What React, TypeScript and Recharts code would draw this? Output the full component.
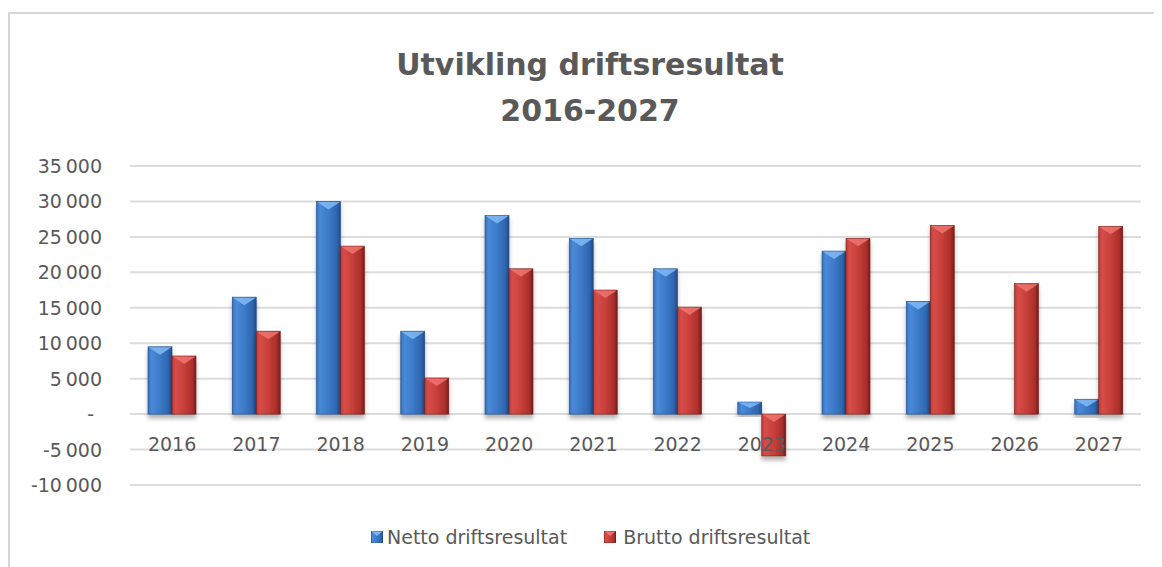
import React from 'react';
import { BarChart, Bar, XAxis, YAxis, CartesianGrid, Legend } from 'recharts';

const years = ['2016', '2017', '2018', '2019', '2020', '2021', '2022', '2023', '2024', '2025', '2026', '2027'];
const netto = [9500, 16500, 30000, 11700, 28000, 24800, 20500, 1700, 23000, 15900, 0, 2100];
const brutto = [8200, 11700, 23700, 5100, 20500, 17500, 15100, -5900, 24800, 26600, 18400, 26500];
const yTicks = [-10000, -5000, 0, 5000, 10000, 15000, 20000, 25000, 30000, 35000];
const seriesNames = ['Netto driftsresultat', 'Brutto driftsresultat'];
const titleLines = ['Utvikling driftsresultat', '2016-2027'];

const data = years.map((year, i) => ({ year, netto: netto[i], brutto: brutto[i] }));

const FONT = '"DejaVu Sans", sans-serif';
const TEXT = '#595959';

const palette = {
  blue: { bevel: '#7db6f2', edge: '#1f4a85' },
  red: { bevel: '#ec716c', edge: '#6e1a18' },
};

const fmt = (v: number) => {
  if (v === 0) return '-';
  const s = Math.abs(v).toString().replace(/\B(?=(\d{3})+(?!\d))/g, '\u202f');
  return v < 0 ? '-' + s : s;
};

const BevelBar = (props: any) => {
  const { x, y, width, height, kind } = props;
  const h = Math.abs(height);
  if (!h || h < 0.5) return null;
  const top = height < 0 ? y + height : y;
  const bev = Math.min(8, h / 2);
  const c = palette[kind as 'blue' | 'red'];
  return (
    <g filter="url(#barShadow)">
      <rect x={x} y={top} width={width} height={h} fill={`url(#grad-${kind})`} stroke={c.edge} strokeWidth={0.6} />
      <polygon
        points={`${x + 0.5},${top + 0.5} ${x + width - 0.5},${top + 0.5} ${x + width / 2},${top + bev}`}
        fill={c.bevel}
        opacity={0.9}
      />
    </g>
  );
};

// labels sit just under the zero line, inside the plot
const XTick = ({ x, y, payload }: any) => (
  <text x={x} y={y - 34} textAnchor="middle" fill={TEXT} fontFamily={FONT} fontSize={19}>
    {payload.value}
  </text>
);

const YTick = ({ x, y, payload }: any) => (
  <text x={payload.value === 0 ? x - 8 : x} y={y + 7} textAnchor="end" fill={TEXT} fontFamily={FONT} fontSize={19}>
    {fmt(payload.value)}
  </text>
);

const Marker = ({ kind }: { kind: 'blue' | 'red' }) => (
  <svg width={12} height={12} style={{ display: 'block' }}>
    <rect x={0} y={0} width={12} height={12} fill={`url(#grad-${kind})`} stroke={palette[kind].edge} strokeWidth={0.6} />
    <polygon points="0.5,0.5 11.5,0.5 6,5" fill={palette[kind].bevel} />
  </svg>
);

const LegendContent = () => (
  <div style={{ display: 'flex', alignItems: 'center', height: 30, paddingLeft: 363, fontFamily: FONT, fontSize: 19, color: TEXT }}>
    <Marker kind="blue" />
    <span style={{ marginLeft: 4, marginRight: 37 }}>{seriesNames[0]}</span>
    <Marker kind="red" />
    <span style={{ marginLeft: 7 }}>{seriesNames[1]}</span>
  </div>
);

export default function App() {
  return (
    <div style={{ position: 'relative', width: 1154, height: 559, overflow: 'hidden', background: '#fff' }}>
      <div
        style={{
          position: 'absolute', left: 0, top: 4, width: 1200, height: 600,
          borderTop: '2px solid #d6d6d6', borderLeft: '2px solid #d6d6d6', boxSizing: 'border-box',
        }}
      />
      <svg width={1154} height={130} style={{ position: 'absolute', left: 0, top: 0 }}>
        {titleLines.map((t, i) => (
          <text key={t} x={582} y={67 + i * 46} textAnchor="middle" fontFamily={FONT} fontWeight="bold" fontSize={30} fill={TEXT}>
            {t}
          </text>
        ))}
      </svg>
      <div style={{ position: 'absolute', left: 0, top: 0 }}>
        <BarChart width={1154} height={559} data={data} margin={{ top: 158, right: 21, bottom: 52, left: 22 }} barGap={0} barSize={24}>
          <defs>
            <linearGradient id="grad-blue" x1="0" y1="0" x2="1" y2="0">
              <stop offset="0%" stopColor="#3470bd" />
              <stop offset="15%" stopColor="#4a8ad8" />
              <stop offset="50%" stopColor="#3c7ac8" />
              <stop offset="85%" stopColor="#2f65ae" />
              <stop offset="100%" stopColor="#214b86" />
            </linearGradient>
            <linearGradient id="grad-red" x1="0" y1="0" x2="1" y2="0">
              <stop offset="0%" stopColor="#bf3b37" />
              <stop offset="15%" stopColor="#d64d48" />
              <stop offset="50%" stopColor="#c83f3a" />
              <stop offset="85%" stopColor="#a92f2b" />
              <stop offset="100%" stopColor="#761d1a" />
            </linearGradient>
            <filter id="barShadow" x="-30%" y="-10%" width="160%" height="130%">
              <feDropShadow dx={0} dy={4} stdDeviation={2} floodColor="#000" floodOpacity={0.3} />
            </filter>
          </defs>
          <CartesianGrid vertical={false} stroke="#dcdcdc" strokeWidth={2} />
          <XAxis dataKey="year" axisLine={false} tickLine={false} tickSize={0} tickMargin={0} height={30} tick={<XTick />} interval={0} />
          <YAxis
            width={100}
            domain={[-10000, 35000]}
            ticks={yTicks}
            axisLine={false}
            tickLine={false}
            tickMargin={22}
            tick={<YTick />}
            interval={0}
          />
          <Bar dataKey="netto" name={seriesNames[0]} isAnimationActive={false} shape={(p: any) => <BevelBar {...p} kind="blue" />} />
          <Bar dataKey="brutto" name={seriesNames[1]} isAnimationActive={false} shape={(p: any) => <BevelBar {...p} kind="red" />} />
          <Legend
            layout="horizontal"
            verticalAlign="middle"
            align="center"
            content={<LegendContent />}
            wrapperStyle={{ position: 'absolute', top: 514, left: 0, width: 1154, height: 30 }}
          />
        </BarChart>
      </div>
    </div>
  );
}
